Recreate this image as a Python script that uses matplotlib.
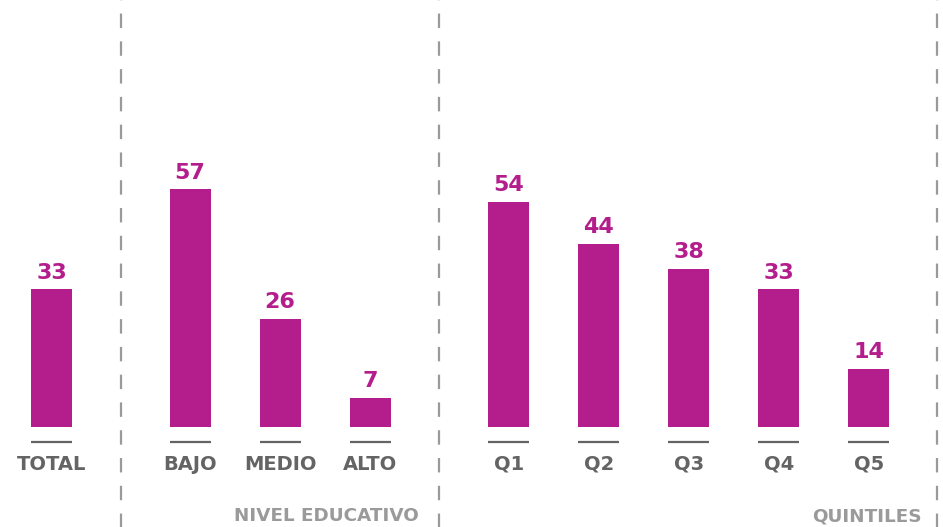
import matplotlib
matplotlib.use("Agg")
import matplotlib.pyplot as plt

# datos
categorias = ["TOTAL", "BAJO", "MEDIO", "ALTO", "Q1", "Q2", "Q3", "Q4", "Q5"]
valores = [33, 57, 26, 7, 54, 44, 38, 33, 14]
grupos = ["NIVEL EDUCATIVO", "QUINTILES"]

# posiciones (en anchos de ranura; 1 ranura = 90 px)
posiciones = [0, 1.54, 2.54, 3.54, 5.08, 6.08, 7.08, 8.08, 9.08]
separadores = [0.77, 4.30, 9.84]

MAGENTA = "#B41E8C"
GRIS = "#646464"
GRIS_CLARO = "#9A9A9A"

plt.rcParams['font.family'] = ['DejaVu Sans']

fig = plt.figure(figsize=(9.43, 5.27), dpi=100)
ax = fig.add_axes([0, 0, 1, 1])
ax.set_xlim(-51.5 / 90, (943 - 51.5) / 90)
ax.set_ylim(-100 / 4.17, 427 / 4.17)
ax.axis("off")

ancho = 41 / 90
ax.bar(posiciones, valores, width=ancho, color=MAGENTA)

for x, v, c in zip(posiciones, valores, categorias):
    ax.text(x, v + 1.6, str(v), ha="center", va="bottom", color=MAGENTA,
            fontsize=16, fontweight="heavy")
    ax.plot([x - ancho / 2, x + ancho / 2], [-3.6, -3.6], color=GRIS, lw=1.6,
            solid_capstyle="butt")
    ax.text(x, -8.9, c, ha="center", va="center", color=GRIS,
            fontsize=14, fontweight="bold")

for s in separadores:
    ax.plot([s, s], [-30, 110], color=GRIS_CLARO, lw=1.6,
            linestyle=(0, (6.5, 6)))

# etiquetas de grupo
ax.text(4.08, -21.4, grupos[0], ha="right", va="center", color=GRIS_CLARO,
        fontsize=13.2, fontweight="bold")
ax.text(9.67, -21.4, grupos[1], ha="right", va="center", color=GRIS_CLARO,
        fontsize=13.2, fontweight="bold")

fig.savefig("out.png", dpi=100)
